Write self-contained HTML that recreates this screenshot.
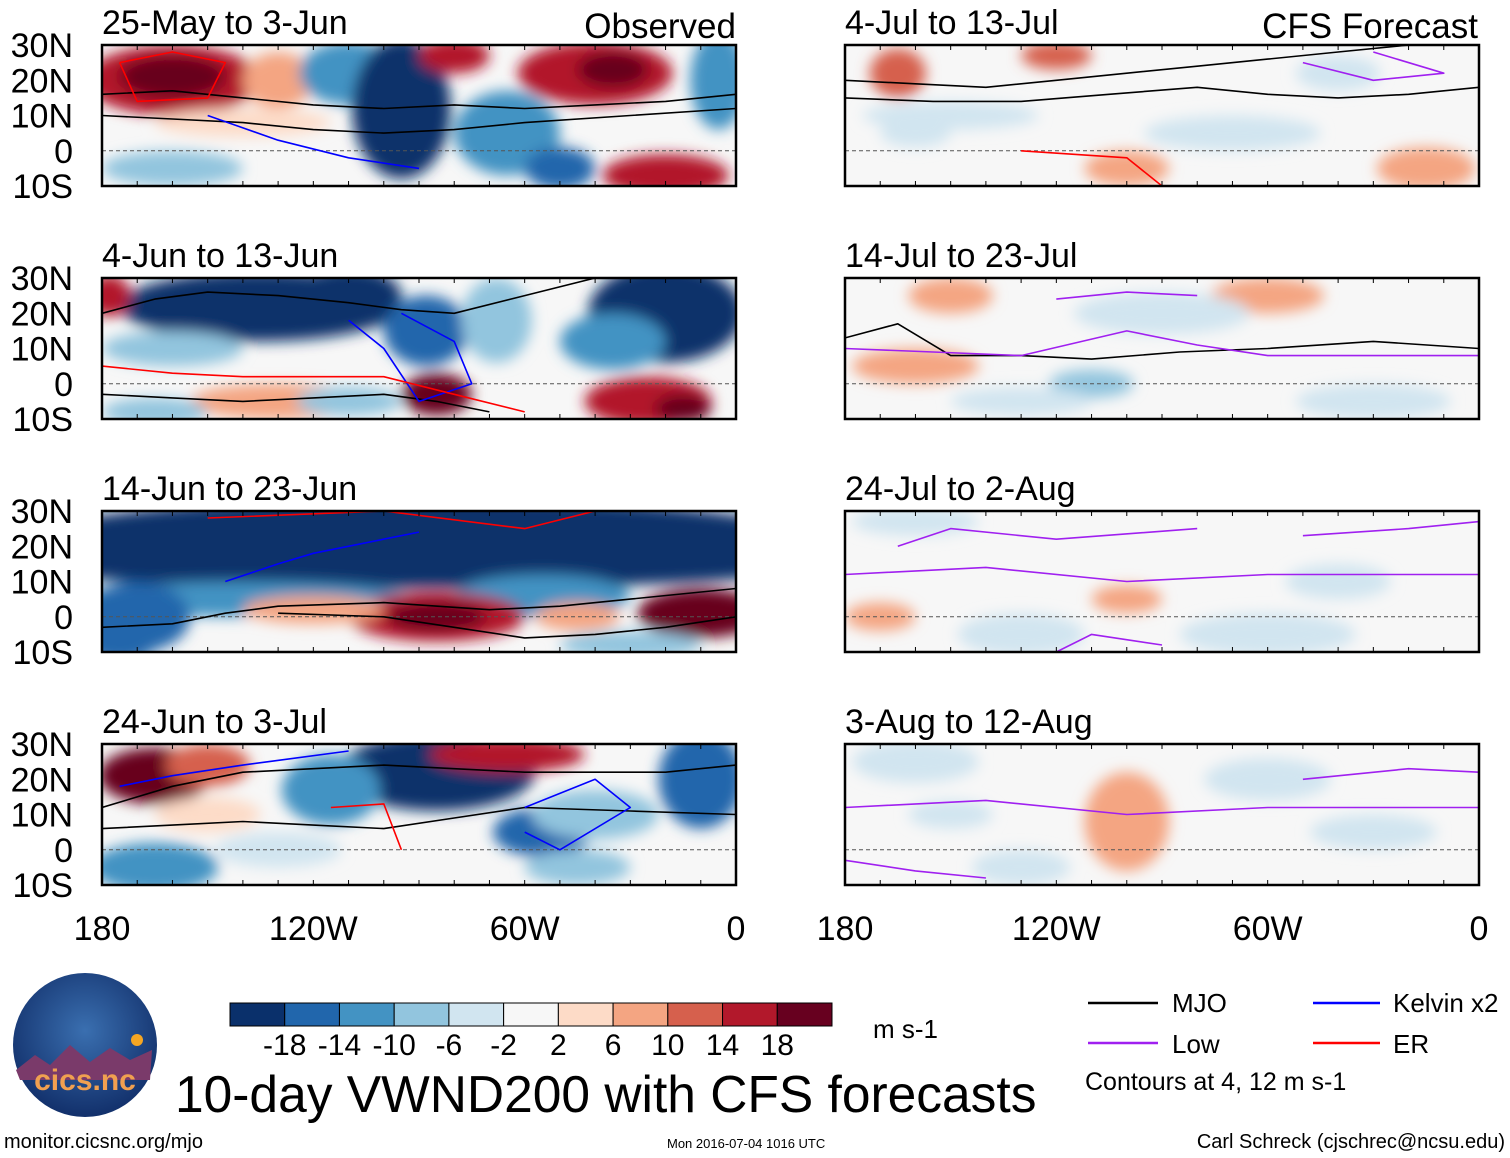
<!DOCTYPE html>
<html><head><meta charset="utf-8">
<style>
body{margin:0;background:#fff;width:1510px;height:1158px;overflow:hidden;font-family:"Liberation Sans",sans-serif}
svg{display:block}
</style></head>
<body>
<svg id="chart" width="1510" height="1158" viewBox="0 0 1510 1158" xmlns="http://www.w3.org/2000/svg">
<defs>
<filter id="blur" x="-50%" y="-50%" width="200%" height="200%"><feGaussianBlur stdDeviation="7"/></filter>
<radialGradient id="logoGrad" cx="50%" cy="40%" r="60%"><stop offset="0" stop-color="#3a6fb0"/><stop offset="1" stop-color="#12306b"/></radialGradient>
</defs>
<g id="panels"></g>
<g id="colorbar"></g>
<text x="873" y="1038" font-size="26">m s-1</text>
<text x="175" y="1112" font-size="51.5">10-day VWND200 with CFS forecasts</text>
<g>
<line x1="1088" y1="1003" x2="1158" y2="1003" stroke="#000" stroke-width="2.5"/>
<text x="1172" y="1012" font-size="26">MJO</text>
<line x1="1313" y1="1003" x2="1380" y2="1003" stroke="#0000ff" stroke-width="2.5"/>
<text x="1393" y="1012" font-size="26">Kelvin x2</text>
<line x1="1088" y1="1043" x2="1158" y2="1043" stroke="#a020f0" stroke-width="2.5"/>
<text x="1172" y="1053" font-size="26">Low</text>
<line x1="1313" y1="1043" x2="1380" y2="1043" stroke="#ff0000" stroke-width="2.5"/>
<text x="1393" y="1053" font-size="26">ER</text>
<text x="1085" y="1090" font-size="25">Contours at 4, 12 m s-1</text>
</g>
<g>
<circle cx="85" cy="1045" r="72" fill="url(#logoGrad)"/>
<path d="M16 1070 L35 1055 L50 1065 L70 1045 L90 1062 L110 1048 L130 1060 L152 1050 L150 1080 L20 1080Z" fill="#7a3a6a"/>
<circle cx="137" cy="1040" r="6" fill="#f5a623"/>
<text x="85" y="1090" font-size="30" fill="#f0a050" text-anchor="middle" font-weight="bold">cics.nc</text>
</g>
<text x="4" y="1148" font-size="20">monitor.cicsnc.org/mjo</text>
<text x="667" y="1148" font-size="13">Mon 2016-07-04 1016 UTC</text>
<text x="1505" y="1148" font-size="20" text-anchor="end">Carl Schreck (cjschrec@ncsu.edu)</text>
</svg>
<script>
const colors=["#0a306b","#2166ac","#4393c3","#92c5de","#d1e5f0","#f7f7f7","#fddbc7","#f4a582","#d6604d","#b2182b","#67001f"];
const cbTicks=["-18","-14","-10","-6","-2","2","6","10","14","18"];
const latTicks=["30N","20N","10N","0","10S"];
const lonTicks=["180","120W","60W","0"];
const panelTitles=["25-May to 3-Jun","4-Jun to 13-Jun","14-Jun to 23-Jun","24-Jun to 3-Jul","4-Jul to 13-Jul","14-Jul to 23-Jul","24-Jul to 2-Aug","3-Aug to 12-Aug"];
// blobs: [lonW, lat, rxDeg, ryDeg, value]
const blobs=[
[[160,20,25,10,14],[160,21,15,6,18],[130,20,10,8,6],[110,22,14,9,-10],[95,12,14,20,-18],[100,15,8,12,-18],[65,5,15,12,-10],[50,-5,10,6,-14],[80,27,10,5,14],[40,22,22,9,14],[35,23,10,5,18],[5,20,8,14,-10],[160,-5,20,5,-6],[20,-7,18,6,12],[140,8,25,4,2]],
[[135,22,40,10,-18],[110,25,15,8,-18],[20,20,22,14,-18],[35,12,15,8,-10],[178,25,6,6,14],[88,15,12,10,-14],[68,18,10,12,-6],[85,-3,10,6,18],[130,-5,25,5,6],[25,-5,18,7,14],[15,-7,8,4,18],[165,-8,15,4,-6],[110,-5,15,4,-6],[160,10,20,5,-6]],
[[90,22,110,12,-18],[90,14,110,6,-18],[140,5,50,5,-10],[55,6,25,6,-10],[170,0,15,10,-14],[85,0,25,7,14],[85,0,14,4,18],[10,1,18,7,18],[120,2,20,4,6],[175,-8,10,5,-14],[45,0,12,4,6],[30,-8,20,4,-6]],
[[165,21,16,8,18],[150,24,12,6,10],[85,22,28,11,-18],[115,17,14,10,-10],[55,5,14,7,-14],[45,-5,15,5,-6],[65,27,22,5,14],[10,20,12,14,-14],[165,-5,18,7,-10],[40,10,18,7,-6],[130,0,18,5,-2],[150,10,15,5,2]],
[[165,22,8,7,10],[120,27,10,4,10],[40,22,12,5,-2],[150,10,25,4,-2],[70,5,25,5,-2],[15,-5,14,6,6],[100,-5,12,5,6],[160,5,10,4,-2]],
[[150,25,12,5,6],[60,25,16,5,6],[160,5,18,5,6],[110,0,12,4,-6],[90,20,25,6,-2],[30,-5,22,5,-2],[130,-5,20,4,-2]],
[[160,27,18,4,-2],[130,-5,18,6,-2],[60,-5,25,6,-2],[100,5,10,4,6],[170,0,10,4,6],[40,10,15,5,-2]],
[[160,25,18,6,-2],[100,8,12,14,6],[60,20,18,6,-2],[130,-5,14,5,-2],[30,5,18,5,-2],[150,10,12,4,-2]]
];
// contours: [color, [[lonW,lat],...]]
const contours=[
[["#000",[[180,16],[160,17],[140,15],[120,13],[100,12],[80,13],[60,12],[40,13],[20,14],[0,16]]],["#000",[[180,10],[160,9],[140,8],[120,6],[100,5],[80,6],[60,8],[30,10],[0,12]]],["#f00",[[175,25],[160,28],[145,25],[150,15],[170,14],[175,25]]],["#00f",[[150,10],[130,3],[110,-2],[90,-5]]]],
[["#000",[[180,20],[165,24],[150,26],[130,25],[110,23],[95,21],[80,20],[60,25],[40,30]]],["#000",[[180,-3],[160,-4],[140,-5],[120,-4],[100,-3],[85,-5],[70,-8]]],["#00f",[[110,18],[100,10],[90,-5],[75,0],[80,12],[95,20]]],["#f00",[[180,5],[160,3],[140,2],[120,2],[100,2],[80,-3],[60,-8]]]],
[["#000",[[180,-3],[160,-2],[145,1],[130,3],[100,4],[70,2],[50,3],[30,5],[0,8]]],["#000",[[130,1],[100,0],[80,-3],[60,-6],[40,-5],[20,-3],[0,0]]],["#00f",[[145,10],[130,15],[120,18],[90,24]]],["#f00",[[150,28],[100,30],[60,25],[40,30]]]],
[["#000",[[180,12],[160,18],[140,22],[120,23],[100,24],[80,23],[60,22],[40,22],[20,22],[0,24]]],["#000",[[180,6],[160,7],[140,8],[120,7],[100,6],[80,9],[60,12],[30,11],[0,10]]],["#00f",[[175,18],[160,21],[140,24],[110,28]]],["#00f",[[60,12],[40,20],[30,12],[50,0],[60,5]]],["#f00",[[115,12],[100,13],[95,0]]]],
[["#000",[[180,20],[160,19],[140,18],[120,20],[100,22],[80,24],[60,26],[40,28],[20,30]]],["#000",[[180,15],[155,14],[130,14],[105,16],[80,18],[60,16],[40,15],[20,16],[0,18]]],["#a020f0",[[50,25],[30,20],[10,22],[30,28]]],["#f00",[[130,0],[100,-2],[90,-10]]]],
[["#000",[[180,13],[165,17],[150,8],[130,8],[110,7],[85,9],[60,10],[30,12],[0,10]]],["#a020f0",[[180,10],[155,9],[130,8],[100,15],[80,11],[60,8],[0,8]]],["#a020f0",[[120,24],[100,26],[80,25]]]],
[["#a020f0",[[165,20],[150,25],[120,22],[80,25]]],["#a020f0",[[180,12],[140,14],[100,10],[60,12],[0,12]]],["#a020f0",[[50,23],[20,25],[0,27]]],["#a020f0",[[120,-10],[110,-5],[90,-8]]]],
[["#a020f0",[[180,12],[140,14],[100,10],[60,12],[0,12]]],["#a020f0",[[50,20],[20,23],[0,22]]],["#a020f0",[[180,-3],[160,-6],[140,-8]]]]
];
const NS="http://www.w3.org/2000/svg";
function mk(tag,attrs,parent){const e=document.createElementNS(NS,tag);for(const k in attrs)e.setAttribute(k,attrs[k]);parent.appendChild(e);return e;}
function colorFor(v){
  let i;
  if(v<0) i=Math.max(0,Math.round((v+18)/4));
  else i=Math.min(10,Math.round((v+22)/4));
  return colors[i];
}
const panelsG=document.getElementById('panels');
const tops=[45,278,511,744];
for(let p=0;p<8;p++){
  const left=p<4?102:845,top=tops[p%4],W=634,H=141;
  const xs=lon=>left+(180-lon)/180*W;
  const ys=lat=>top+(30-lat)/40*H;
  const g=mk('g',{},panelsG);
  
  
  const cid='clip'+p;
  const cp=mk('clipPath',{id:cid},g);mk('rect',{x:left,y:top,width:W,height:H},cp);
  const inner=mk('g',{'clip-path':'url(#'+cid+')'},g);
  mk('rect',{x:left,y:top,width:W,height:H,fill:'#f7f7f7'},inner);
  const bg=mk('g',{filter:'url(#blur)'},inner);
  blobs[p].forEach(b=>{
    const el=mk('ellipse',{cx:xs(b[0]),cy:ys(b[1]),rx:b[2]/180*W,ry:b[3]/40*H,fill:colorFor(b[4])},bg);
    
    
  });
  mk('line',{x1:left,y1:ys(0),x2:left+W,y2:ys(0),stroke:'#555','stroke-dasharray':'4,3','stroke-width':1},inner);
  contours[p].forEach(c=>{
    const d=c[1].map((pt,i)=>(i?'L':'M')+xs(pt[0]).toFixed(1)+' '+ys(pt[1]).toFixed(1)).join(' ');
    const el=mk('path',{d:d,fill:'none',stroke:c[0],'stroke-width':1.6,'stroke-linejoin':'round'},inner);
    
    
  });
  mk('rect',{x:left,y:top,width:W,height:H,fill:'none',stroke:'#000','stroke-width':2.5},g);
  for(let lon=180;lon>=0;lon-=10){const x=xs(lon);mk('line',{x1:x,y1:top,x2:x,y2:top+5,stroke:'#000'},g);mk('line',{x1:x,y1:top+H,x2:x,y2:top+H-5,stroke:'#000'},g);}
  const t=mk('text',{x:left,y:top-11,'font-size':34},g);t.textContent=panelTitles[p];
  
  
  if(p<4){latTicks.forEach((s,i)=>{const tt=mk('text',{x:73,y:ys(30-i*10)+12,'font-size':34,'text-anchor':'end'},g);tt.textContent=s;
    
    });}
  if(p%4===3){lonTicks.forEach((s,i)=>{const tt=mk('text',{x:xs(180-i*60),y:940,'font-size':34,'text-anchor':'middle'},panelsG);tt.textContent=s;
    
    });}
}
const h1=mk('text',{x:736,y:38,'font-size':35,'text-anchor':'end'},panelsG);h1.textContent='Observed';


const h2=mk('text',{x:1478,y:38,'font-size':35,'text-anchor':'end'},panelsG);h2.textContent='CFS Forecast';


const cb=document.getElementById('colorbar');
const cbx=230,cbw=602/colors.length;
colors.forEach((c,i)=>{const r=mk('rect',{x:cbx+i*cbw,y:1003,width:cbw,height:23,fill:c,stroke:'#000','stroke-width':1},cb);
  
  });
cbTicks.forEach((s,i)=>{const t=mk('text',{x:cbx+(i+1)*cbw,y:1055,'font-size':30,'text-anchor':'middle'},cb);t.textContent=s;
  
  });
</script>
</body></html>
